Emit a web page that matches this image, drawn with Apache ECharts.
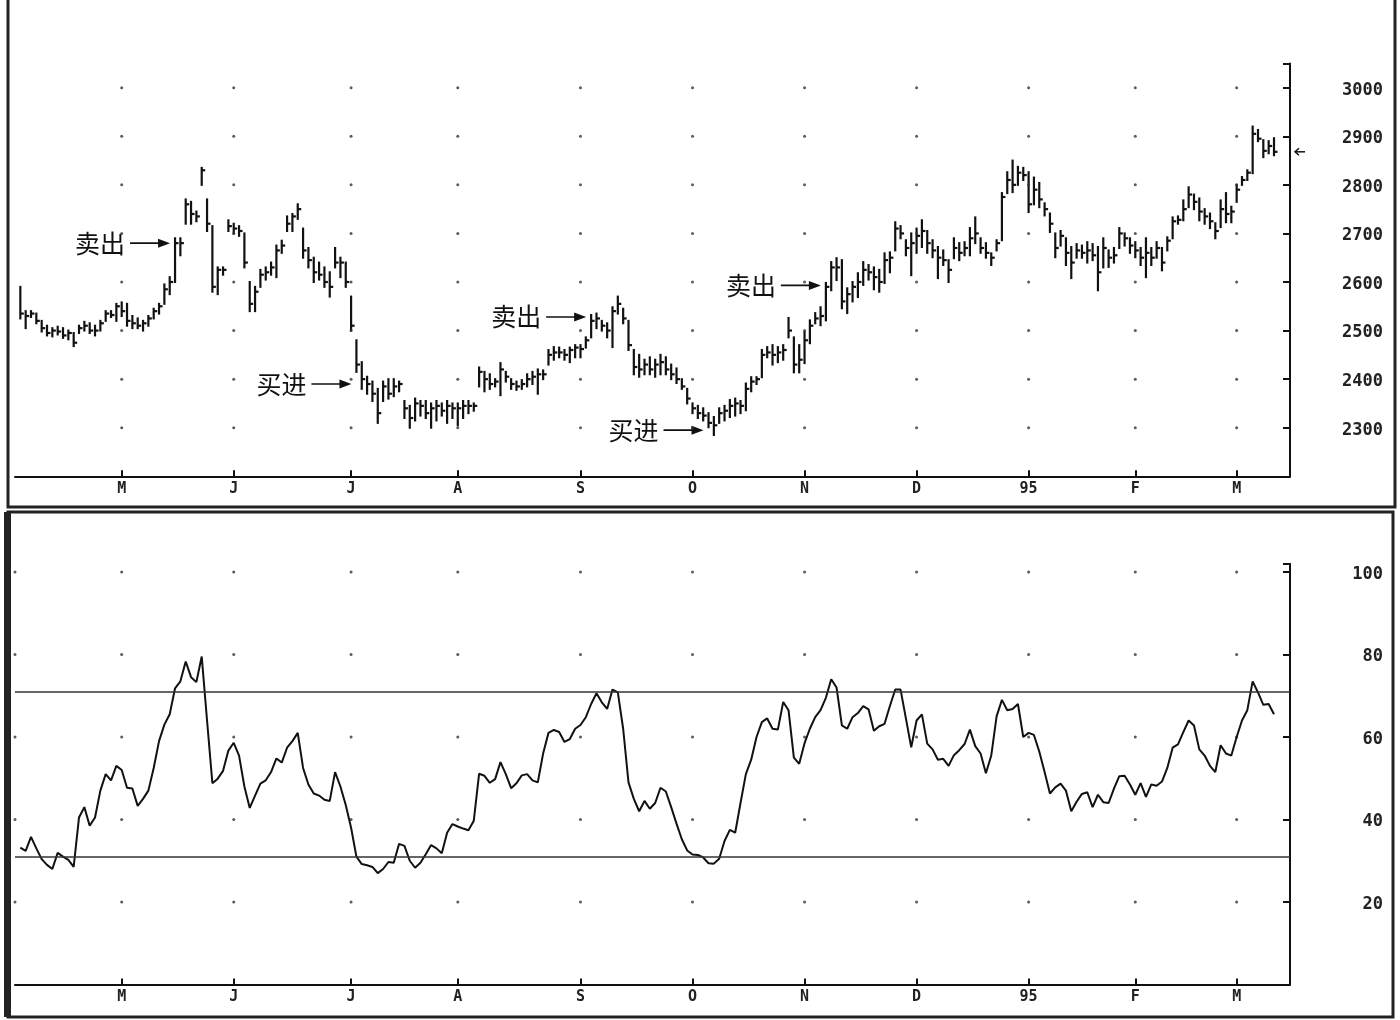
<!DOCTYPE html>
<html><head><meta charset="utf-8">
<script src="https://cdn.jsdelivr.net/npm/echarts@6/dist/echarts.min.js"></script>
<style>html,body{margin:0;padding:0;background:#fff}#c{width:1400px;height:1020px}</style>
</head><body><div id="c"></div>
<script>
// month boundaries (A = April start, data begins at index 1)
const monthNames = ['A','M','J','J','A','S','O','N','D','95','F','M'];
const monthDays = [20,21,22,20,23,21,21,21,21,20,19,11];

const highs = [
2590,2540,2540,2535,2520,2510,2505,2508,2505,2500,2495,2510,2518,2515,2510,2520,2540,2540,2555,2558,
2555,2530,2525,2520,2530,2545,2555,2595,2610,2690,2690,2770,2765,2745,2835,2770,2715,2630,2630,
2727,2720,2715,2700,2600,2590,2625,2630,2640,2675,2685,2735,2740,2760,2710,2670,2650,2640,2630,2620,
2670,2650,2640,2570,2480,2435,2405,2395,2380,2395,2400,2400,2395,2355,2345,2360,2355,2355,2350,2355,2350,2355,2350,
2350,2355,2355,2350,2424,2415,2410,2400,2433,2415,2400,2395,2398,2410,2415,2420,2418,2460,2466,2465,2460,2465,2470,
2470,2486,2532,2535,2520,2515,2548,2570,2545,2520,2460,2450,2440,2445,2440,2450,2445,2430,
2422,2400,2380,2350,2345,2340,2330,2322,2340,2345,2357,2360,2355,2391,2404,2404,2460,2466,2470,2466,2470,
2526,2486,2470,2497,2521,2536,2548,2598,2641,2649,2645,2587,2600,2618,2641,2635,2630,2625,2659,2661,
2723,2715,2686,2700,2710,2727,2705,2686,2672,2665,2645,2690,2680,2682,2711,2733,2690,2680,2659,
2686,2783,2826,2850,2837,2835,2826,2815,2804,2762,2741,2700,2705,2690,2672,2678,2675,2682,2678,2672,
2690,2665,2670,2711,2700,2690,2682,2670,2690,2670,2682,2670,2692,2733,2735,2768,2795,2780,2772,2750,
2741,2721,2768,2783,2755,2800,2816,2830,2920,2913,2892,2890,2896];
const lows = [
2525,2505,2528,2515,2498,2490,2488,2492,2485,2482,2468,2495,2500,2495,2490,2500,2520,2528,2520,2530,
2510,2505,2505,2500,2510,2525,2535,2555,2575,2600,2655,2720,2720,2725,2800,2705,2580,2575,2615,
2705,2700,2695,2630,2540,2540,2590,2605,2615,2610,2660,2705,2705,2730,2650,2630,2600,2605,2590,2570,
2630,2610,2590,2500,2415,2380,2370,2355,2310,2355,2360,2365,2375,2320,2300,2315,2325,2320,2300,2315,2325,2310,2320,
2305,2320,2330,2335,2385,2375,2380,2385,2367,2395,2380,2378,2380,2385,2390,2370,2400,2430,2440,2445,2440,2435,2445,
2445,2465,2486,2505,2500,2486,2466,2535,2515,2460,2410,2405,2410,2410,2405,2410,2410,2400,
2392,2380,2350,2330,2320,2315,2301,2285,2310,2315,2322,2325,2330,2336,2375,2390,2404,2445,2430,2435,2440,
2486,2414,2414,2433,2474,2515,2511,2521,2583,2604,2546,2536,2560,2569,2594,2605,2585,2580,2598,2620,
2665,2690,2655,2614,2660,2672,2660,2651,2608,2635,2600,2649,2645,2655,2655,2680,2660,2650,2635,
2665,2686,2783,2785,2800,2810,2744,2760,2754,2737,2703,2651,2675,2635,2608,2650,2650,2640,2645,2583,
2630,2631,2640,2670,2675,2660,2651,2635,2610,2635,2650,2624,2665,2690,2720,2727,2754,2750,2727,2720,
2711,2690,2713,2723,2723,2765,2800,2810,2824,2890,2857,2865,2861];
const closes = [
2535,2530,2535,2520,2505,2495,2500,2498,2490,2495,2475,2505,2510,2500,2500,2515,2535,2532,2550,2540,
2520,2515,2510,2515,2525,2540,2550,2585,2600,2680,2680,2760,2740,2735,2830,2720,2590,2625,2625,
2715,2710,2705,2640,2555,2580,2615,2620,2630,2665,2675,2720,2735,2750,2665,2645,2620,2615,2600,2590,
2640,2640,2600,2510,2430,2400,2390,2370,2330,2385,2370,2385,2390,2340,2320,2350,2345,2330,2340,2345,2335,2345,2340,
2340,2345,2345,2345,2415,2400,2390,2395,2420,2405,2390,2385,2390,2400,2405,2410,2410,2450,2455,2455,2450,2460,2465,
2462,2480,2520,2525,2510,2500,2540,2555,2525,2470,2425,2420,2430,2420,2430,2435,2420,2410,
2400,2385,2360,2340,2330,2325,2310,2305,2330,2335,2345,2350,2345,2380,2395,2400,2450,2455,2450,2455,2460,
2500,2430,2440,2480,2510,2525,2530,2590,2630,2630,2560,2575,2590,2600,2625,2620,2610,2600,2645,2650,
2710,2700,2670,2680,2695,2705,2680,2665,2650,2645,2625,2670,2660,2670,2690,2700,2670,2660,2650,
2680,2775,2810,2800,2825,2820,2760,2790,2770,2750,2720,2670,2695,2660,2640,2665,2660,2665,2655,2620,
2670,2650,2655,2700,2690,2675,2665,2650,2660,2650,2670,2640,2685,2725,2728,2750,2780,2765,2745,2735,
2725,2705,2750,2740,2745,2790,2810,2825,2905,2895,2870,2880,2868];

const rsi = [
33.2,32.4,35.8,33.0,30.4,29.0,28.0,31.9,31.0,30.2,
28.5,40.5,43.0,38.5,40.5,47.0,51.0,49.5,53.0,52.0,
47.7,47.5,43.3,45.0,47.0,52.5,59.0,63.0,65.5,71.8,
73.5,78.3,74.5,73.3,79.5,64.0,48.8,49.9,51.8,56.7,
58.6,55.5,48.0,42.8,45.8,48.7,49.5,51.5,54.8,53.8,
57.4,59.0,61.0,52.5,48.5,46.3,45.8,44.8,44.5,51.5,
48.0,43.5,38.0,31.0,29.2,28.9,28.5,27.0,28.0,29.7,
29.5,34.1,33.6,30.0,28.3,29.5,31.6,33.8,33.0,31.8,
36.8,38.9,38.3,37.8,37.4,39.7,51.1,50.6,48.9,49.8,
53.9,51.0,47.6,48.8,50.7,51.0,49.5,49.0,56.0,61.0,
61.7,61.2,58.8,59.5,62.0,62.9,64.8,68.0,70.6,68.4,
66.8,71.5,70.8,62.0,49.0,45.0,42.0,44.5,42.6,44.0,
47.7,46.8,43.0,39.0,35.2,32.5,31.5,31.4,30.8,29.4,
29.3,30.5,34.8,37.5,36.8,44.0,51.0,54.5,60.0,63.6,
64.5,62.0,61.8,68.5,66.5,55.0,53.5,58.5,62.0,64.8,
66.5,69.5,74.0,72.0,62.8,62.0,64.8,65.8,67.5,66.7,
61.5,62.6,63.2,67.5,71.5,71.5,64.5,57.5,64.0,65.5,
58.4,57.0,54.5,54.7,53.0,55.6,56.8,58.3,61.8,57.8,
56.0,51.2,55.5,65.0,69.0,66.5,66.8,68.0,60.0,61.0,
60.5,56.5,51.5,46.3,47.8,48.7,47.0,42.0,44.3,46.2,
46.6,43.0,46.0,44.2,44.0,47.5,50.5,50.6,48.5,46.0,
48.8,45.5,48.5,48.2,49.2,52.5,57.4,58.2,61.2,64.0,
62.8,57.0,55.5,53.0,51.5,58.0,56.0,55.5,60.0,64.0,
66.5,73.5,70.8,67.8,68.0,65.5];

const priceTicks = [2300,2400,2500,2600,2700,2800,2900,3000];
const rsiTicks = [20,40,60,80,100];
const rsiLevels = [71,31];
const annotations = [
  {text:'卖出', idx:30, price:2680},
  {text:'买进', idx:64, price:2390},
  {text:'卖出', idx:108, price:2528},
  {text:'买进', idx:130, price:2295},
  {text:'卖出', idx:152, price:2593}
];

// categories
const categories = [];
const monthStart = {};
monthDays.forEach((n, m) => {
  for (let d = 0; d < n; d++) {
    if (d === 0) monthStart[categories.length] = m;
    categories.push(m + '-' + d);
  }
});
const startIdx = Object.keys(monthStart).map(Number);

const barData = highs.map((h, k) => [k + 1, h, lows[k], closes[k]]);
const rsiData = rsi.map((v, k) => [k + 1, v]);
const dotsTop = [], dotsBot = [];
startIdx.forEach(i => {
  if (i > 0) priceTicks.forEach(v => dotsTop.push([i, v]));
  rsiTicks.forEach(v => dotsBot.push([i, v]));
});

const INK = '#111';
const labelFont = {fontFamily:'DejaVu Sans Mono', fontWeight:'bold', color:'#222'};
const showMonth = (i) => (i in monthStart) && i > 0;

function xAxisCfg(gi) {
  return {
    type:'category', gridIndex:gi, data:categories, boundaryGap:false,
    axisLine:{show:true, lineStyle:{color:INK, width:2}},
    axisTick:{show:true, inside:true, length:6, interval:(i)=>showMonth(i), lineStyle:{color:INK, width:2}},
    axisLabel:Object.assign({interval:(i)=>showMonth(i), fontSize:15, margin:5,
      formatter:(v)=>monthNames[+String(v).split('-')[0]]}, labelFont),
    splitLine:{show:false}
  };
}

function renderBar(params, api) {
  const x = api.value(0);
  const t = api.coord([x, api.value(1)]);
  const b = api.coord([x, api.value(2)]);
  const c = api.coord([x, api.value(3)]);
  return {type:'group', children:[
    {type:'line', shape:{x1:t[0], y1:t[1]-1, x2:b[0], y2:b[1]+1}, style:{stroke:INK, lineWidth:2.2}},
    {type:'line', shape:{x1:c[0], y1:c[1], x2:c[0]+3.5, y2:c[1]}, style:{stroke:INK, lineWidth:2.2}}
  ]};
}

const yLabel = {align:'right', verticalAlign:'top', margin:93, fontSize:17, padding:[-6,0,0,0]};

const chart = echarts.init(document.getElementById('c'));
chart.setOption({
  animation:false,
  backgroundColor:'#fff',
  grid:[
    {left:15, right:110, top:63.4, height:412.9},
    {left:15, right:110, top:563.75, height:420.75}
  ],
  xAxis:[xAxisCfg(0), xAxisCfg(1)],
  yAxis:[
    {type:'value', gridIndex:0, position:'right', min:2200, max:3050, interval:100,
     axisLine:{show:true, lineStyle:{color:INK, width:2}},
     axisTick:{show:true, inside:true, length:7, lineStyle:{color:INK, width:2}},
     axisLabel:Object.assign({formatter:(v)=> (v>=2300 && v<=3000) ? String(v) : ''}, yLabel, labelFont),
     splitLine:{show:false}},
    {type:'value', gridIndex:1, position:'right', min:0, max:102, interval:20,
     axisLine:{show:true, lineStyle:{color:INK, width:2}},
     axisTick:{show:true, inside:true, length:7, lineStyle:{color:INK, width:2}},
     axisLabel:Object.assign({formatter:(v)=> (v>=20 && v<=100) ? String(v) : ''}, yLabel, labelFont),
     splitLine:{show:false}}
  ],
  series:[
    {type:'scatter', xAxisIndex:0, yAxisIndex:0, data:dotsTop, symbolSize:3, itemStyle:{color:'#333'}, silent:true},
    {type:'scatter', xAxisIndex:1, yAxisIndex:1, data:dotsBot, symbolSize:3, itemStyle:{color:'#333'}, silent:true},
    {type:'custom', xAxisIndex:0, yAxisIndex:0, data:barData, renderItem:renderBar,
     encode:{x:0, y:[1,2,3]}, silent:true},
    {type:'line', xAxisIndex:1, yAxisIndex:1, data:rsiData, showSymbol:false, symbol:'none',
     lineStyle:{color:INK, width:2}, silent:true,
     markLine:{silent:true, symbol:'none', label:{show:false},
       lineStyle:{color:'#333', width:1.5, type:'solid'},
       data:rsiLevels.map(v=>({yAxis:v}))}}
  ]
});

const g = [];
g.push({type:'polyline', shape:{points:[[8,0],[8,507],[1395,507],[1395,0]]}, style:{stroke:'#222', fill:null, lineWidth:3}});
g.push({type:'rect', shape:{x:8, y:512, width:1385, height:505}, style:{stroke:'#222', fill:null, lineWidth:3}});
g.push({type:'rect', shape:{x:4, y:512, width:7, height:505}, style:{fill:'#222'}});
annotations.forEach(a => {
  const p = chart.convertToPixel({gridIndex:0}, [a.idx, a.price]);
  const tip = p[0] - 5, start = tip - 40;
  g.push({type:'line', shape:{x1:start, y1:p[1], x2:tip-8, y2:p[1]}, style:{stroke:INK, lineWidth:1.6}});
  g.push({type:'polygon', shape:{points:[[tip,p[1]],[tip-12,p[1]-4.5],[tip-12,p[1]+4.5]]}, style:{fill:INK}});
  g.push({type:'text', style:{text:a.text, x:start-5, y:p[1], align:'right', verticalAlign:'middle',
    font:'25px "Noto Sans CJK SC"', fill:INK}});
});
const lp = chart.convertToPixel({gridIndex:0}, [closes.length, closes[closes.length-1]]);
g.push({type:'line', shape:{x1:1295, y1:lp[1], x2:1305, y2:lp[1]}, style:{stroke:INK, lineWidth:1.5}});
g.push({type:'polyline', shape:{points:[[1299,lp[1]-3.5],[1295,lp[1]],[1299,lp[1]+3.5]]}, style:{stroke:INK, fill:null, lineWidth:1.5}});
chart.setOption({graphic:g});
</script>
</body></html>
